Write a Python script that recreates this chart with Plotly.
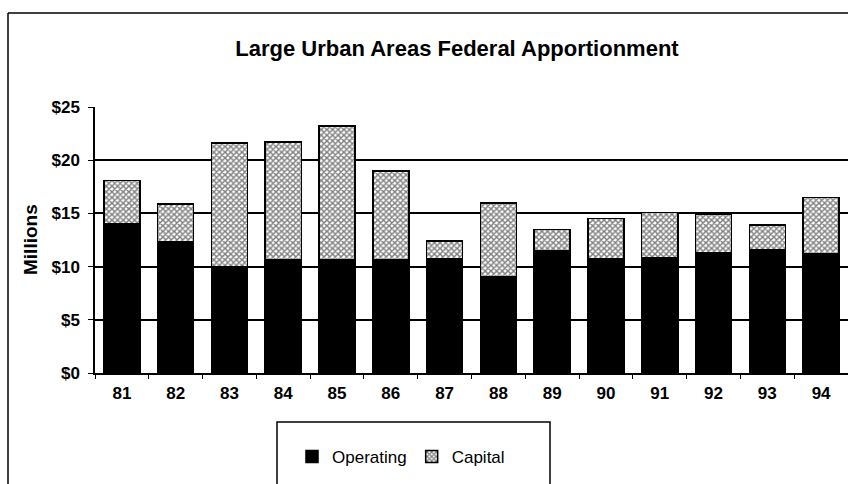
import plotly.graph_objects as go

years = ["81", "82", "83", "84", "85", "86", "87", "88", "89", "90", "91", "92", "93", "94"]
operating = [14.0, 12.3, 10.0, 10.6, 10.6, 10.6, 10.7, 9.0, 11.5, 10.75, 10.8, 11.3, 11.6, 11.2]
totals = [18.1, 15.9, 21.6, 21.7, 23.2, 19.0, 12.4, 16.0, 13.5, 14.5, 15.1, 14.9, 13.9, 16.5]
capital = [round(t - o, 2) for t, o in zip(totals, operating)]
y_ticks = [0, 5, 10, 15, 20, 25]

FONT = "Liberation Sans"

fig = go.Figure()
fig.add_trace(go.Bar(
    x=years, y=operating, name="Operating",
    marker=dict(color="black", line=dict(color="black", width=1.5)),
))
fig.add_trace(go.Bar(
    x=years, y=capital, name="Capital",
    marker=dict(color="white", line=dict(color="black", width=1.5),
                pattern=dict(shape="x", size=4, solidity=0.6, fgcolor="black", bgcolor="white")),
))

W, H = 848, 484
L, R, T, B = 95, 0, 107, 111
pw, ph = W - L - R, H - T - B

def px(xp):
    return (xp - L) / pw

def py(yp):
    return (H - B - yp) / ph

fig.update_layout(
    width=W, height=H,
    margin=dict(l=L, r=R, t=T, b=B, autoexpand=False),
    paper_bgcolor="white", plot_bgcolor="white",
    barmode="stack", bargap=0.33,
    font=dict(family=FONT, size=16, color="black"),
    title=dict(text="<b>Large Urban Areas Federal Apportionment</b>",
               x=px(457), xref="paper", xanchor="center",
               y=1 - 48 / H, yref="container", yanchor="middle",
               font=dict(family=FONT, size=22, color="black")),
    showlegend=True,
    legend=dict(orientation="h", x=px(401), xanchor="center", y=py(457), yanchor="middle",
                bgcolor="rgba(0,0,0,0)", borderwidth=0, traceorder="normal",
                font=dict(family=FONT, size=17, color="black"), itemwidth=30),
    xaxis=dict(type="category", showgrid=False, showline=True, linecolor="black", linewidth=1.5,
               ticks="outside", tickson="boundaries", ticklen=4, tickcolor="black",
               ticklabelstandoff=4,
               tickfont=dict(family=FONT, size=17, color="black", weight="bold"),
               range=[-0.5, 13.5]),
    yaxis=dict(range=[0, 25], tickvals=y_ticks, ticktext=[f"${v}" for v in y_ticks],
               showgrid=True, gridcolor="black", gridwidth=1.5,
               showline=True, linecolor="black", linewidth=1.5,
               ticks="outside", ticklen=5, tickcolor="black",
               ticklabelstandoff=5,
               tickfont=dict(family=FONT, size=17, color="black", weight="bold"),
               zeroline=False),
    annotations=[dict(text="<b>Millions</b>", x=px(30), y=py(240), xref="paper", yref="paper",
                      textangle=-90, showarrow=False, xanchor="center", yanchor="middle",
                      font=dict(family=FONT, size=19, color="black"))],
    shapes=[
        dict(type="line", xref="paper", yref="paper", x0=px(8), x1=px(848), y0=py(13), y1=py(13),
             line=dict(color="black", width=1.5)),
        dict(type="line", xref="paper", yref="paper", x0=px(8), x1=px(8), y0=py(13), y1=py(490),
             line=dict(color="black", width=1.5)),
        dict(type="rect", xref="paper", yref="paper", x0=px(277), x1=px(550), y0=py(422), y1=py(495),
             line=dict(color="black", width=1.5), fillcolor="rgba(0,0,0,0)"),
    ],
)

fig.write_html("out.html", config={"displayModeBar": False},
               post_script="document.body.style.margin='0';")
